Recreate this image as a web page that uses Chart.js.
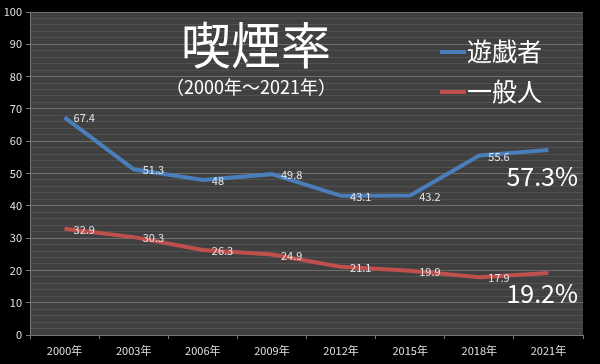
<!DOCTYPE html>
<html>
<head>
<meta charset="utf-8">
<script src="https://cdn.jsdelivr.net/npm/chart.js@4/dist/chart.umd.min.js"></script>
<style>
  html, body { margin: 0; padding: 0; background: #000; }
  #wrap { width: 600px; height: 364px; }
</style>
</head>
<body>
<div id="wrap"><canvas id="smokeChart"></canvas></div>
<script>
// データ
const years = ["2000年", "2003年", "2006年", "2009年", "2012年", "2015年", "2018年", "2021年"];
const players = [67.4, 51.3, 48, 49.8, 43.1, 43.2, 55.6, 57.3];
const general = [32.9, 30.3, 26.3, 24.9, 21.1, 19.9, 17.9, 19.2];
const seriesNames = ["遊戯者", "一般人"];
const titleText = "喫煙率";
const subtitleText = "（2000年～2021年）";

const FONT = "'Noto Sans CJK JP', 'Noto Sans', sans-serif";
const BLUE = "#4a7ebb";
const RED = "#c0504d";

// プロット背景・タイトル・凡例・ラベル
const decor = {
  id: "decor",
  beforeDraw(chart) {
    const { ctx, chartArea: a } = chart;
    ctx.save();
    ctx.fillStyle = "#404040";
    ctx.fillRect(a.left, a.top, a.right - a.left, a.bottom - a.top);
    ctx.restore();
  },
  afterDatasetsDraw(chart) {
    const { ctx, chartArea: a } = chart;
    ctx.save();
    ctx.fillStyle = "#ffffff";
    ctx.textAlign = "center";
    ctx.textBaseline = "middle";
    ctx.font = "50px " + FONT;
    ctx.fillText(titleText, 256, 45);
    ctx.font = "18px " + FONT;
    ctx.fillText(subtitleText, 251, 87);

    // 凡例
    ctx.textAlign = "left";
    ctx.font = "25px " + FONT;
    chart.data.datasets.forEach((ds, i) => {
      const y = 52 + i * 40;
      ctx.strokeStyle = ds.borderColor;
      ctx.lineWidth = 4;
      ctx.beginPath();
      ctx.moveTo(440, y);
      ctx.lineTo(466, y);
      ctx.stroke();
      ctx.fillStyle = "#ffffff";
      ctx.fillText(ds.label, 467, y - 1);
    });

    // データラベル
    ctx.font = "11px " + FONT;
    ctx.fillStyle = "#e6e6e6";
    chart.data.datasets.forEach((ds, i) => {
      const pts = chart.getDatasetMeta(i).data;
      pts.forEach((p, j) => {
        if (j === pts.length - 1) return;
        ctx.fillText(String(ds.data[j]), p.x + 9, p.y + 1);
      });
      // 最新値を大きく
      const last = pts[pts.length - 1];
      ctx.save();
      ctx.textAlign = "right";
      ctx.fillStyle = "#ffffff";
      ctx.font = "25px " + FONT;
      ctx.fillText(ds.data[ds.data.length - 1] + "%", a.right - 5, last.y + (i === 0 ? 27 : 21));
      ctx.restore();
    });
    ctx.restore();
  }
};

const ctx = document.getElementById("smokeChart").getContext("2d");
const smokeChart = new Chart(ctx, {
  type: "line",
  data: {
    labels: years,
    datasets: [
      { label: seriesNames[0], data: players, borderColor: BLUE, borderWidth: 4, pointRadius: 0, tension: 0 },
      { label: seriesNames[1], data: general, borderColor: RED, borderWidth: 4, pointRadius: 0, tension: 0 }
    ]
  },
  options: {
    responsive: true,
    maintainAspectRatio: false,
    animation: false,
    layout: { padding: { top: 12, right: 17, left: 0, bottom: 0 } },
    plugins: { legend: { display: false }, tooltip: { enabled: false } },
    scales: {
      x: {
        offset: true,
        grid: { offset: true, drawOnChartArea: false, tickLength: 4, color: "#777" },
        border: { color: "#777" },
        ticks: { color: "#e0e0e0", font: { size: 11, family: FONT }, padding: 5, maxRotation: 0 },
        afterFit(scale) { scale.height = 29; }
      },
      y: {
        min: 0,
        max: 100,
        grid: {
          color: c => (c.tick && c.tick.value % 10 === 0 ? "#6e6e6e" : "#515151"),
          tickColor: c => (c.tick && c.tick.value % 10 === 0 ? "#777" : "transparent"),
          tickLength: 4
        },
        border: { color: "#777" },
        ticks: {
          stepSize: 2,
          autoSkip: false,
          color: "#e0e0e0",
          font: { size: 11, family: FONT },
          padding: 4,
          callback: v => (v % 10 === 0 ? v : "")
        },
        afterFit(scale) { scale.width = 30; }
      }
    }
  },
  plugins: [decor]
});
</script>
</body>
</html>
